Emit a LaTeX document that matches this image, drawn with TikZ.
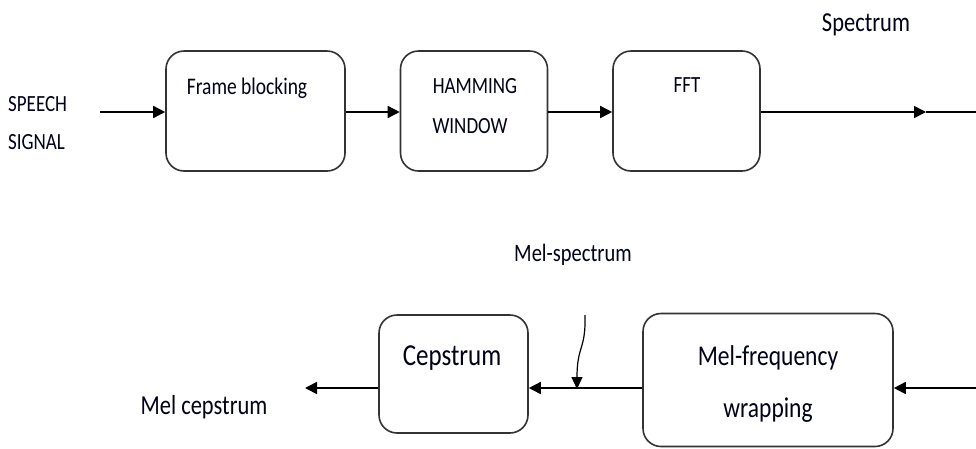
\documentclass[tikz,border=0pt]{standalone}
\usepackage{fontspec}
\setmainfont{Carlito}
\usetikzlibrary{arrows.meta}
\newcommand{\tx}[2]{\scalebox{1}[1.22]{\fontsize{#1}{#1}\selectfont #2}}
\tikzset{
  blockbox/.style={draw=black!80, line width=1.6pt, rounded corners=18pt, inner sep=0pt},
  lbl/.style={inner sep=0pt, text=black!90!blue},
  conn/.style={line width=1.6pt, black},
  arr/.style={conn, -{Triangle[length=12pt,width=12pt]}},
}
\begin{document}
\begin{tikzpicture}[x=1pt,y=-1pt]
\clip (0,0) rectangle (976,448);
\fill[white] (0,0) rectangle (976,448);
% top row boxes
\node[blockbox, minimum width=179pt, minimum height=120pt] (fb) at (255.5,111) {};
\node[blockbox, minimum width=147pt, minimum height=120pt] (hw) at (474,111) {};
\node[blockbox, minimum width=147pt, minimum height=120pt] (fft) at (686.5,111) {};
% bottom row boxes
\node[blockbox, minimum width=149pt, minimum height=118pt] (cep) at (453.5,374) {};
\node[blockbox, minimum width=250pt, minimum height=133pt] (mfw) at (768,380) {};
% texts
\node[lbl, anchor=west] (sp1) at (8,104) {\tx{19}{SPEECH}};
\node[lbl, anchor=west] (sp2) at (8,142) {\tx{19}{SIGNAL}};
\node[lbl] (fbt) at (247,88) {\tx{19.5}{Frame blocking}};
\node[lbl] (hwt1) at (475,86) {\tx{19}{HAMMING}};
\node[lbl] (hwt2) at (470,126) {\tx{19}{WINDOW}};
\node[lbl] (fftt) at (687,85) {\tx{19}{FFT}};
\node[lbl] (spec) at (866,25) {\tx{22.5}{Spectrum}};
\node[lbl] (mspec) at (573,255) {\tx{20.5}{Mel-spectrum}};
\node[lbl] (cept) at (452,358) {\tx{25}{Cepstrum}};
\node[lbl] (mft1) at (768,358) {\tx{23.5}{Mel-frequency}};
\node[lbl] (mft2) at (768,410) {\tx{23.5}{wrapping}};
\node[lbl] (melc) at (204,407) {\tx{22.5}{Mel cepstrum}};
% coordinates
\coordinate (tin) at (100,112);
\coordinate (specmid) at (926,112);
\coordinate (specend) at (976,112);
\coordinate (bin) at (976,388);
\coordinate (bout) at (305,388);
\coordinate (mstart) at (585,315);
\coordinate (mend) at (577,389);
% top connectors
\draw[arr] (tin) -- (fb.west |- tin);
\draw[arr] (fb.east |- tin) -- (hw.west |- tin);
\draw[arr] (hw.east |- tin) -- (fft.west |- tin);
\draw[arr] (fft.east |- tin) -- (specmid);
\draw[conn] (specmid) -- (specend);
% bottom connectors
\draw[arr] (bin) -- (mfw.east |- bin);
\draw[arr] (mfw.west |- bin) -- (cep.east |- bin);
\draw[arr] (cep.west |- bin) -- (bout);
\draw[conn, line width=1.2pt, -{Triangle[length=12pt,width=11pt]}] (mstart) .. controls (586,350) and (577,345) .. (mend);
\end{tikzpicture}
\end{document}
